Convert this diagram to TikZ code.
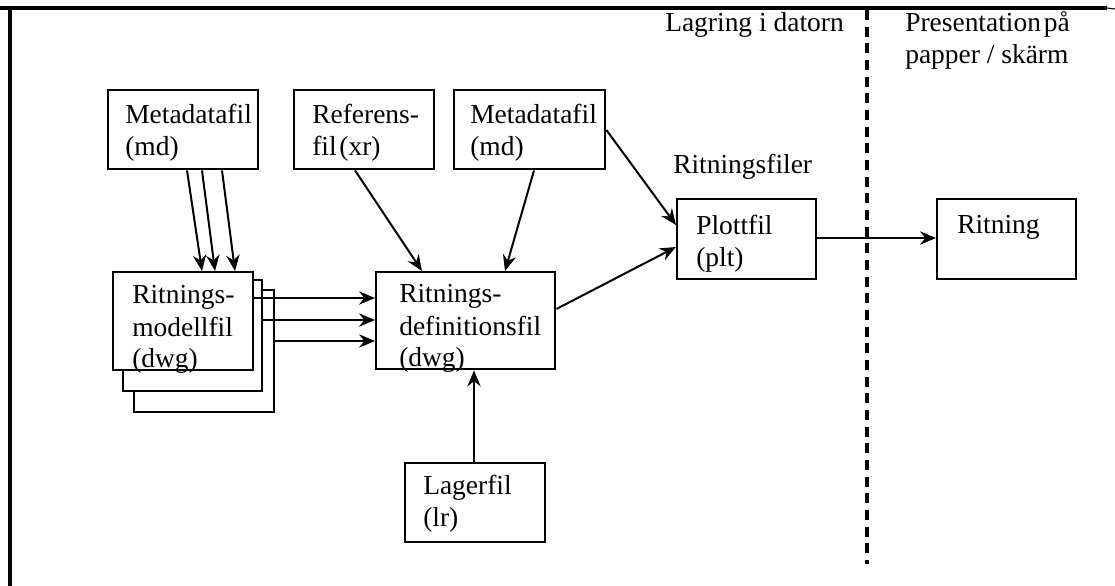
\documentclass[tikz,border=0pt]{standalone}
\usepackage{fontspec}
\setmainfont{Liberation Serif}
\usetikzlibrary{arrows.meta,calc}
\newdimen\pxu \pxu=0.75pt
\begin{document}
\begin{tikzpicture}[x=0.75pt,y=-0.75pt,
  box/.style={draw, line width=1.8pt, fill=white, inner sep=0pt, anchor=north west},
  txt/.style={anchor=base west, inner sep=0pt, font=\fontsize{20.6pt}{24pt}\selectfont},
  conn/.style={line width=1.5pt, -{Stealth[length=12pt,width=10pt,inset=4pt]}},
  frame/.style={line width=2.4pt},
  divider/.style={line width=2.4pt, dash pattern=on 7.5pt off 5pt}
]
\useasboundingbox (0,0) rectangle (1115,586);

% frame
\coordinate (ftl) at (0,8);
\coordinate (ftr) at (1107,8);
\coordinate (fte) at (1115,9);
\coordinate (flt) at (10,7);
\coordinate (flb) at (10,586);
\draw[frame] (ftl) -- (ftr);
\draw[line width=0.8pt] (ftr) -- (fte);
\draw[frame] (flt) -- (flb);

% divider
\coordinate (dtop) at (867,10);
\coordinate (dbot) at (867,564);
\draw[divider] (dtop) -- (dbot);

% headers
\node[txt] (h1) at (665,31) {Lagring i datorn};
\node[txt] (h2a) at (905,31) {Presentation\hspace{0.1em}på};
\node[txt] (h2b) at (905,63) {papper / skärm};
\node[txt] (h3) at (673,173) {Ritningsfiler};

% boxes
\node[box, minimum width={150*\pxu}, minimum height={79*\pxu}] (mdA) at (107,89) {};
\node[box, minimum width={140*\pxu}, minimum height={79*\pxu}] (ref) at (293,89) {};
\node[box, minimum width={151*\pxu}, minimum height={79*\pxu}] (mdB) at (453,89) {};
\node[box, minimum width={140*\pxu}, minimum height={122*\pxu}] (mod3) at (133,289) {};
\node[box, minimum width={139*\pxu}, minimum height={111*\pxu}] (mod2) at (122,279) {};
\node[box, minimum width={140*\pxu}, minimum height={98*\pxu}] (mod1) at (112,271) {};
\node[box, minimum width={179*\pxu}, minimum height={97*\pxu}] (def) at (375,271) {};
\node[box, minimum width={140*\pxu}, minimum height={79*\pxu}] (lager) at (404,462) {};
\node[box, minimum width={139*\pxu}, minimum height={80*\pxu}] (plot) at (676,198) {};
\node[box, minimum width={139*\pxu}, minimum height={80*\pxu}] (rit) at (936,198) {};

% box texts
\node[txt] (mdA1) at (125,123) {Metadatafil};
\node[txt] (mdA2) at (125,155) {(md)};
\node[txt] (ref1) at (312,123) {Referens-};
\node[txt] (ref2) at (312,155) {fil\hspace{0.1em}(xr)};
\node[txt] (mdB1) at (470,123) {Metadatafil};
\node[txt] (mdB2) at (470,155) {(md)};
\node[txt] (mod1a) at (132,303) {Ritnings-};
\node[txt] (mod1b) at (132,336) {modellfil};
\node[txt] (mod1c) at (132,367) {(dwg)};
\node[txt] (def1) at (399,302) {Ritnings-};
\node[txt] (def2) at (399,335) {definitionsfil};
\node[txt] (def3) at (399,366) {(dwg)};
\node[txt] (lag1) at (423,494) {Lagerfil};
\node[txt] (lag2) at (423,526) {(lr)};
\node[txt] (plot1) at (696,234) {Plottfil};
\node[txt] (plot2) at (696,266) {(plt)};
\node[txt] (rit1) at (957,233) {Ritning};

% connectors
\draw[conn] ($(mdA.south west)+(80,0)$) -- ($(mod1.north west)+(90,0)$);
\draw[conn] ($(mdA.south west)+(95,0)$) -- ($(mod1.north west)+(103,0)$);
\draw[conn] ($(mdA.south west)+(115,0)$) -- ($(mod1.north west)+(123,0)$);
\draw[conn] ($(mod1.north east)+(0,27)$) -- ($(def.north west)+(0,27)$);
\draw[conn] ($(mod2.north east)+(0,41)$) -- ($(def.north west)+(0,49)$);
\draw[conn] ($(mod3.north east)+(0,52)$) -- ($(def.north west)+(0,70)$);
\draw[conn] ($(ref.south west)+(62,0)$) -- ($(def.north west)+(47,0)$);
\draw[conn] ($(mdB.south west)+(81,0)$) -- ($(def.north west)+(130,0)$);
\draw[conn] ($(mdB.north east)+(0,41)$) -- ($(plot.north west)+(0,27)$);
\draw[conn] ($(def.north east)+(0,38)$) -- ($(plot.north west)+(0,49)$);
\draw[conn] ($(plot.north east)+(0,40)$) -- ($(rit.north west)+(0,40)$);
\draw[conn] ($(lager.north west)+(70,0)$) -- ($(def.south west)+(99,0)$);
\end{tikzpicture}
\end{document}
